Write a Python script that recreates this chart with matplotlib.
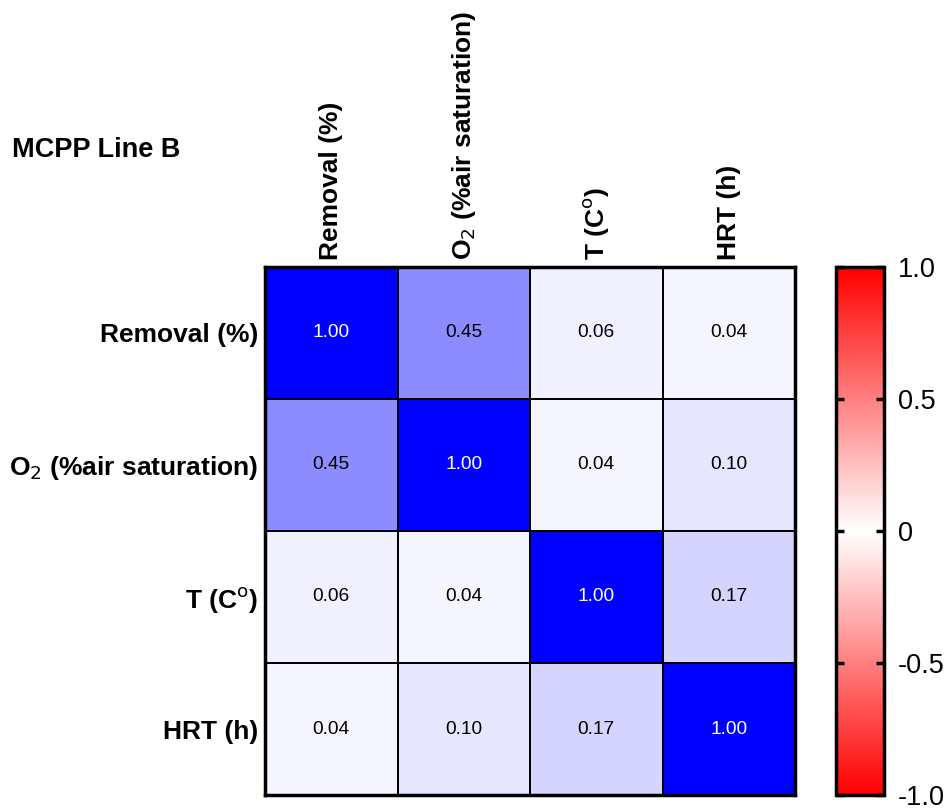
import matplotlib
matplotlib.use("Agg")
import matplotlib.pyplot as plt
import numpy as np
from matplotlib.colors import LinearSegmentedColormap, Normalize
from matplotlib.cm import ScalarMappable

plt.rcParams['font.family'] = ['Liberation Sans', 'DejaVu Sans']

# variables (rows / columns of the correlation matrix)
labels = ["Removal (%)", r"O$_2$ (%air saturation)", r"T (C$^{\mathrm{o}}$)", "HRT (h)"]
row_removal = [1.00, 0.45, 0.06, 0.04]
row_o2 = [0.45, 1.00, 0.04, 0.10]
row_temp = [0.06, 0.04, 1.00, 0.17]
row_hrt = [0.04, 0.10, 0.17, 1.00]
cbar_ticks = [-1.0, -0.5, 0, 0.5, 1.0]
cbar_ticklabels = ["-1.0", "-0.5", "0", "0.5", "1.0"]

corr = np.array([row_removal, row_o2, row_temp, row_hrt])
n = len(labels)

fig = plt.figure(figsize=(9.51, 8.09), dpi=100)
ax = fig.add_axes([0.2787, 0.0173, 0.5573, 0.6527])

blues = LinearSegmentedColormap.from_list("wb", ["#ffffff", "#0000ff"])
ax.pcolormesh(np.arange(n + 1), np.arange(n + 1), corr, cmap=blues, vmin=0, vmax=1,
              edgecolor="black", linewidth=1.2)
ax.set_xlim(0, n)
ax.set_ylim(n, 0)

for i in range(n):
    for j in range(n):
        v = corr[i, j]
        ax.text(j + 0.5, i + 0.5, f"{v:.2f}", ha="center", va="center", fontsize=13.8,
                color="white" if v > 0.7 else "black")

ax.xaxis.tick_top()
ax.set_xticks(np.arange(n) + 0.5)
ax.set_xticklabels(labels, rotation=90, fontsize=19, fontweight="bold")
ax.set_yticks(np.arange(n) + 0.5)
ax.set_yticklabels(labels, fontsize=19, fontweight="bold")
ax.tick_params(length=0, pad=5)
for s in ax.spines.values():
    s.set_linewidth(2.5)

# colour bar (red - white - red)
cax = fig.add_axes([0.879, 0.0173, 0.0505, 0.6527])
reds = LinearSegmentedColormap.from_list("rwr", ["#ff0000", "#ffffff", "#ff0000"])
cb = fig.colorbar(ScalarMappable(norm=Normalize(-1, 1), cmap=reds), cax=cax)
cb.set_ticks(cbar_ticks)
cb.set_ticklabels(cbar_ticklabels)
cb.outline.set_linewidth(2.5)
cax.tick_params(axis="y", which="both", direction="in", left=True, right=True,
                length=6, width=2.5, labelsize=19.5, pad=10)

fig.text(0.013, 0.815, "MCPP Line B", fontsize=19.5, fontweight="bold", va="center")

fig.savefig("out.png", dpi=100)
